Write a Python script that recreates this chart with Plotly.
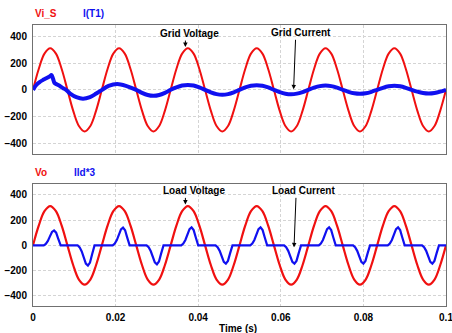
import plotly.graph_objects as go

# ---- data ----
PERIOD = 1 / 60                     # six mains cycles in 0.1 s
half_wave_shape = [0.0, 0.5, 0.87, 1.0, 0.87, 0.5]   # relative height of a half wave at 30 deg steps
voltage_half_peaks = [311, -311] * 6                 # Vi_S and Vo (same waveform)

# I(T1): start-up part read point by point
grid_i_start_t = [0, 0.0008, 0.0016, 0.0024, 0.0032, 0.0040, 0.0045, 0.0052, 0.0057, 0.0065,
                  0.0073, 0.0080, 0.0090, 0.0105, 0.0121, 0.0138, 0.0152, 0.0167, 0.0183,
                  0.0204, 0.0225]
grid_i_start = [0, 36, 58, 73, 86, 100, 110, 52, 42, 28,
                12, 0, -28, -55, -67, -55, -30, 0, 30,
                44, 30]
grid_i_steady_start = 0.025
grid_i_half_peaks = [-45, 37, -37, 35, -33, 32, -30, 30, -28]

# Ild*3 pulses
pulse_peak_t = [0.0051, 0.0133, 0.0218, 0.0300, 0.0384, 0.0467,
                0.0551, 0.0633, 0.0717, 0.0800, 0.0884, 0.0967]
pulse_peak_v = [118, -160, 140, -150, 142, -145, 142, -145, 142, -145, 142, -145]
pulse_dt = [-0.0025, -0.0020, -0.0015, -0.0010, -0.0005, 0, 0.0005, 0.0010, 0.0014, 0.0016]
pulse_frac = [0, 0.1, 0.3, 0.6, 0.9, 1, 0.85, 0.45, 0.1, 0]

x_ticks = [0, 0.02, 0.04, 0.06, 0.08, 0.1]
x_tick_text = ["0", "0.02", "0.04", "0.06", "0.08", "0.1"]
y_ticks = [-400, -200, 0, 200, 400]

# ---- build series ----
def tile(start_t, half_peaks):
    step = PERIOD / 12
    t, v = [], []
    for k, a in enumerate(half_peaks):
        for j, f in enumerate(half_wave_shape):
            t.append(start_t + (6 * k + j) * step)
            v.append(a * f)
    t.append(start_t + 6 * len(half_peaks) * step)
    v.append(0)
    return t, v

vt, vv = tile(0, voltage_half_peaks)
gt_s, gv_s = tile(grid_i_steady_start, grid_i_half_peaks)
gt = grid_i_start_t + gt_s
gv = grid_i_start + gv_s

lt, lv = [0], [0]
for tp, a in zip(pulse_peak_t, pulse_peak_v):
    for dt, f in zip(pulse_dt, pulse_frac):
        lt.append(tp + dt)
        lv.append(a * f)
lt.append(0.1)
lv.append(0)

RED = "#f01010"
BLUE = "#1010f0"
FONT = "Liberation Sans, Arial, sans-serif"

fig = go.Figure()
fig.add_trace(go.Scatter(x=vt, y=vv, mode="lines", line=dict(color=RED, width=2, shape="spline"),
                         xaxis="x", yaxis="y", showlegend=False))
fig.add_trace(go.Scatter(x=gt, y=gv, mode="lines", line=dict(color=BLUE, width=4, shape="spline", smoothing=0.8),
                         xaxis="x", yaxis="y", showlegend=False))
fig.add_trace(go.Scatter(x=vt, y=vv, mode="lines", line=dict(color=RED, width=2.2, shape="spline"),
                         xaxis="x2", yaxis="y2", showlegend=False))
fig.add_trace(go.Scatter(x=lt, y=lv, mode="lines", line=dict(color=BLUE, width=2.2),
                         xaxis="x2", yaxis="y2", showlegend=False))

axis_common = dict(showline=True, mirror=True, linecolor="#707070", linewidth=1,
                   showgrid=True, gridcolor="#d4d4d4", griddash="3px,2px", gridwidth=1,
                   zeroline=False, ticks="", automargin=False,
                   tickfont=dict(family=FONT, size=10, color="black", weight="bold"))

yr = [-480, 485]
fig.update_layout(
    width=452, height=333,
    margin=dict(l=33, r=6, t=25, b=27),
    paper_bgcolor="white", plot_bgcolor="white",
    xaxis=dict(domain=[0, 1], range=[0, 0.1], anchor="y", showticklabels=False,
               tickvals=x_ticks, **axis_common),
    yaxis=dict(domain=[0.541, 1], range=yr, anchor="x", tickvals=y_ticks,
               ticklabelstandoff=3, **axis_common),
    xaxis2=dict(domain=[0, 1], range=[0, 0.1], anchor="y2", tickvals=x_ticks,
                ticktext=x_tick_text, ticklabelstandoff=2, ticklabeloverflow="allow",
                **axis_common),
    yaxis2=dict(domain=[0, 0.434], range=yr, anchor="x2", tickvals=y_ticks,
                ticklabelstandoff=3, **axis_common),
)

lab_font = dict(family=FONT, size=10)
anns = [
    dict(text="<b>Vi_S</b>", x=0, y=1.0416, color=RED),
    dict(text="<b>I(T1)</b>", x=0.1156, y=1.0416, color=BLUE),
    dict(text="<b>Vo</b>", x=0, y=0.4758, color=RED),
    dict(text="<b>Ild*3</b>", x=0.0954, y=0.4758, color=BLUE),
]
for a in anns:
    fig.add_annotation(text=a["text"], x=a["x"], y=a["y"], xref="paper", yref="paper",
                       xanchor="left", yanchor="middle", showarrow=False,
                       font=dict(color=a["color"], **lab_font))

fig.add_annotation(text="<b>Time (s)</b>", x=0.496, y=-0.08, xref="paper", yref="paper",
                   xanchor="center", yanchor="middle", showarrow=False,
                   font=dict(color="black", **lab_font))

# labelled arrows: (text, text x, text y, tip x, tip y, ax, ay, axis)
notes = [
    ("Grid Voltage", 0.0380, 423, 0.0369, 320, 0, -8, "1"),
    ("Grid Current", 0.0648, 427, 0.0631, 4, 2, -51, "1"),
    ("Load Voltage", 0.0389, 437, 0.0369, 324, 0, -8, "2"),
    ("Load Current", 0.0654, 437, 0.0632, -16, 2, -51, "2"),
]
for txt, tx, ty, px, py, ax, ay, k in notes:
    xr = "x" if k == "1" else "x2"
    yr_ = "y" if k == "1" else "y2"
    fig.add_annotation(text=f"<b>{txt}</b>", x=tx, y=ty, xref=xr, yref=yr_,
                       xanchor="center", yanchor="middle", showarrow=False,
                       font=dict(color="black", **lab_font))
    fig.add_annotation(text="", x=px, y=py, xref=xr, yref=yr_, showarrow=True,
                       ax=ax, ay=ay, arrowhead=2, arrowsize=0.9, arrowwidth=1,
                       arrowcolor="black", standoff=0)

fig.write_html("out.html", config={"displayModeBar": False},
               post_script="document.body.style.margin='0';document.body.style.overflow='hidden';")
